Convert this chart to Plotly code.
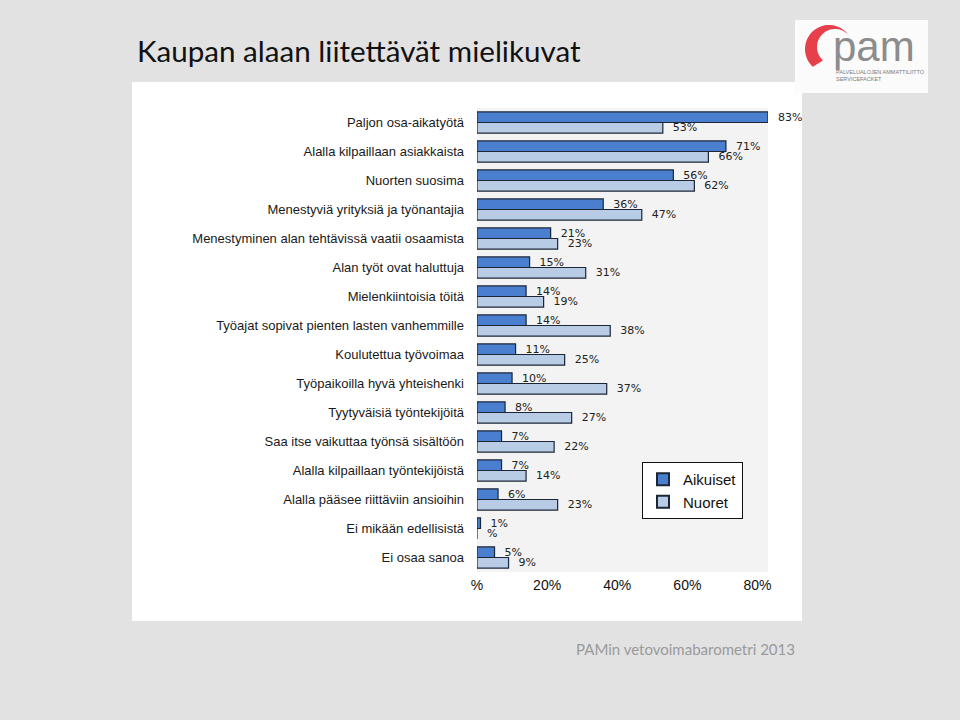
import numpy as np
import plotly.graph_objects as go

categories = [
    "Paljon osa-aikatyötä",
    "Alalla kilpaillaan asiakkaista",
    "Nuorten suosima",
    "Menestyviä yrityksiä ja työnantajia",
    "Menestyminen alan tehtävissä vaatii osaamista",
    "Alan työt ovat haluttuja",
    "Mielenkiintoisia töitä",
    "Työajat sopivat pienten lasten vanhemmille",
    "Koulutettua työvoimaa",
    "Työpaikoilla hyvä yhteishenki",
    "Tyytyväisiä työntekijöitä",
    "Saa itse vaikuttaa työnsä sisältöön",
    "Alalla kilpaillaan työntekijöistä",
    "Alalla pääsee riittäviin ansioihin",
    "Ei mikään edellisistä",
    "Ei osaa sanoa",
]
aikuiset = [83, 71, 56, 36, 21, 15, 14, 14, 11, 10, 8, 7, 7, 6, 1, 5]
nuoret = [53, 66, 62, 47, 23, 31, 19, 38, 25, 37, 27, 22, 14, 23, 0, 9]
x_tickvals = [0, 20, 40, 60, 80]
x_ticktext = ["%", "20%", "40%", "60%", "80%"]

title_text = "Kaupan alaan liitettävät mielikuvat"
footer_text = "PAMin vetovoimabarometri 2013"

# plot area in pixels
PL, PR, PT, PB = 477, 768, 108, 572
W, H = 960, 720


def px(x):
    return (x - PL) / (PR - PL)


def py(y):
    return (PB - y) / (PB - PT)


def lab(v):
    return "\u00a0\u00a0" + (f"{v}%" if v > 0 else "%")


fig = go.Figure()
fig.add_trace(go.Bar(
    y=categories, x=aikuiset, orientation="h", name="Aikuiset",
    marker=dict(color="#4a7fd0", line=dict(color="#1b2636", width=1.2)),
    text=[lab(v) for v in aikuiset], textposition="outside",
    textfont=dict(family="DejaVu Sans", size=11, color="#222222"),
    cliponaxis=False, constraintext="none",
))
fig.add_trace(go.Bar(
    y=categories, x=nuoret, orientation="h", name="Nuoret",
    marker=dict(color="#b8cce6", line=dict(color="#1b2636", width=1.2)),
    text=[lab(v) for v in nuoret], textposition="outside",
    textfont=dict(family="DejaVu Sans", size=11, color="#222222"),
    cliponaxis=False, constraintext="none",
))

shapes = [
    # white chart panel
    dict(type="rect", xref="paper", yref="paper", layer="below",
         x0=px(132), x1=px(802), y0=py(621), y1=py(82),
         fillcolor="white", line=dict(width=0)),
    # plot area background
    dict(type="rect", xref="paper", yref="paper", layer="below",
         x0=0, x1=1, y0=0, y1=1,
         fillcolor="#f3f3f3", line=dict(width=0)),
    # logo white background
    dict(type="rect", xref="paper", yref="paper", layer="below",
         x0=px(795), x1=px(928), y0=py(93), y1=py(20),
         fillcolor="#fbfbfb", line=dict(width=0)),
]

# red crescent of logo
ang_o = np.radians(np.linspace(36, 228, 40))
cx, cy, r = 829, 49, 24
outer = [(cx + r * np.cos(a), cy - r * np.sin(a)) for a in ang_o]
ang_i = np.radians(np.linspace(228, 36, 40))
ci_x, ci_y, ri = 835, 47, 18
inner = [(ci_x + ri * np.cos(a), ci_y - ri * np.sin(a)) for a in ang_i]
pts = outer + inner
path = "M " + " L ".join(f"{px(a):.5f},{py(b):.5f}" for a, b in pts) + " Z"
shapes.append(dict(type="path", path=path, xref="paper", yref="paper",
                   fillcolor="#e8404a", line=dict(width=0), layer="above"))

annotations = [
    dict(text=title_text, x=px(135), y=py(50), xref="paper", yref="paper",
         xanchor="left", yanchor="middle", showarrow=False,
         font=dict(family="Lato", size=29.6, color="#111111")),
    dict(text=footer_text, x=px(797), y=py(649), xref="paper", yref="paper",
         xanchor="right", yanchor="middle", showarrow=False,
         font=dict(family="Lato", size=15, color="#9a9a9a")),
    dict(text="pam", x=px(831), y=py(46), xref="paper", yref="paper",
         xanchor="left", yanchor="middle", showarrow=False,
         font=dict(family="Liberation Sans", size=42, color="#8c8c8c")),
    dict(text="PALVELUALOJEN AMMATTILIITTO<br>SERVICEFACKET", x=px(834), y=py(75),
         xref="paper", yref="paper", xanchor="left", yanchor="middle",
         showarrow=False, align="left",
         font=dict(family="Liberation Sans", size=5.5, color="#7a7a7a")),
]

fig.update_layout(
    width=W, height=H,
    margin=dict(l=PL, r=W - PR, t=PT, b=H - PB, pad=0),
    paper_bgcolor="#e2e2e2",
    plot_bgcolor="rgba(0,0,0,0)",
    barmode="group", bargap=0.27, bargroupgap=0,
    showlegend=True,
    legend=dict(x=px(642), y=py(462), xanchor="left", yanchor="top",
                bgcolor="white", bordercolor="#111111", borderwidth=1,
                font=dict(family="Liberation Sans", size=15, color="#111111"),
                tracegroupgap=0, itemsizing="constant"),
    shapes=shapes,
    annotations=annotations,
    xaxis=dict(range=[0, 83], tickvals=x_tickvals, ticktext=x_ticktext,
               showgrid=False, zeroline=False, showline=False,
               tickfont=dict(family="Liberation Sans", size=14, color="#111111"),
               ticks="", ticklabelstandoff=3, fixedrange=True),
    yaxis=dict(autorange="reversed", showgrid=False, zeroline=False,
               showline=False, ticks="",
               tickfont=dict(family="Liberation Sans", size=13, color="#1a1a1a"),
               ticklabelstandoff=12, fixedrange=True),
)

fig.write_html("out.html", config={"displayModeBar": False},
               post_script="document.body.style.margin='0';")
